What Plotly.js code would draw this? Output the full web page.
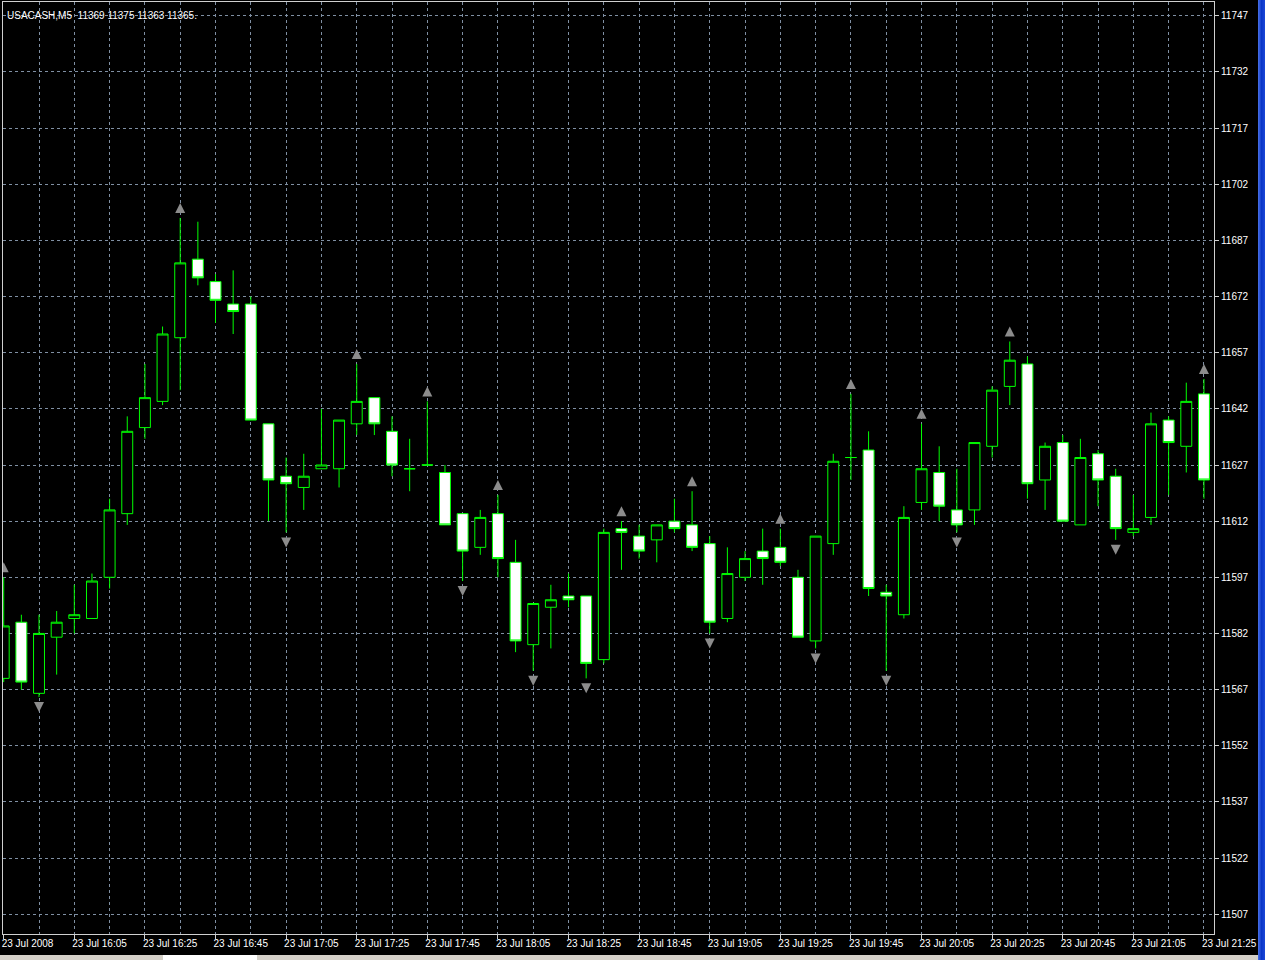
<!DOCTYPE html>
<html><head><meta charset="utf-8">
<script src="https://cdn.plot.ly/plotly-3.0.1.min.js"></script>
<style>
html,body{margin:0;padding:0;background:#ffffff;width:1280px;height:960px;overflow:hidden;}
#chart{position:absolute;left:0;top:0;width:1262px;height:955px;background:#000;}
#frameR{position:absolute;left:1258px;top:0;width:7px;height:960px;background:linear-gradient(to right,#4a72e8,#0a36c8,#1c48d8);}
#frameB{position:absolute;left:0;top:955px;width:1258px;height:5px;background:#d4d0c8;}
#tab{position:absolute;left:163px;top:955px;width:94px;height:5px;background:#ffffff;}
</style></head>
<body>
<div id="chart"></div>
<div id="frameR"></div><div id="frameB"></div><div id="tab"></div>
<script>
// ---- data (USACASH, M5, 23 Jul 2008) ----
var dateStr = '2008-07-23';
var times = ['15:45','15:50','15:55','16:00','16:05','16:10','16:15','16:20','16:25','16:30',
  '16:35','16:40','16:45','16:50','16:55','17:00','17:05','17:10','17:15','17:20',
  '17:25','17:30','17:35','17:40','17:45','17:50','17:55','18:00','18:05','18:10',
  '18:15','18:20','18:25','18:30','18:35','18:40','18:45','18:50','18:55','19:00',
  '19:05','19:10','19:15','19:20','19:25','19:30','19:35','19:40','19:45','19:50',
  '19:55','20:00','20:05','20:10','20:15','20:20','20:25','20:30','20:35','20:40',
  '20:45','20:50','20:55','21:00','21:05','21:10','21:15','21:20','21:25'];
var openP = [11570,11585,11566,11581,11586,11586,11597,11614,11637,11644,
  11661,11682,11676,11670,11670,11638,11624,11621,11626,11626,
  11638,11645,11636,11626,11627,11625,11614,11605,11614,11601,
  11579,11589,11592,11592,11575,11610,11608,11607,11612,11611,
  11606,11586,11597,11604,11605,11597,11580,11606,11629,11631,
  11593,11587,11617,11625,11615,11615,11632,11648,11654,11623,
  11633,11611,11630,11624,11609,11613,11639,11632,11646];
var highP = [11597,11587,11587,11588,11595,11598,11618,11640,11654,11664,
  11693,11692,11678,11679,11672,11638,11629,11630,11642,11639,
  11654,11645,11640,11634,11644,11627,11614,11615,11619,11607,
  11590,11595,11598,11592,11610,11612,11611,11611,11618,11620,
  11608,11605,11604,11610,11610,11599,11608,11630,11646,11636,
  11595,11616,11638,11632,11626,11633,11648,11660,11656,11633,
  11635,11634,11631,11626,11619,11641,11640,11649,11650];
var lowP = [11569,11567,11565,11571,11582,11586,11594,11611,11634,11643,
  11647,11675,11665,11662,11639,11612,11609,11615,11626,11621,
  11635,11635,11624,11620,11627,11611,11596,11603,11597,11577,
  11572,11578,11589,11570,11574,11599,11602,11601,11609,11604,
  11582,11585,11596,11595,11600,11581,11578,11603,11623,11592,
  11572,11586,11615,11612,11609,11611,11629,11643,11618,11615,
  11612,11611,11616,11607,11608,11611,11619,11625,11618];
var closeP = [11584,11569,11582,11585,11587,11596,11615,11636,11645,11662,
  11681,11677,11671,11668,11639,11623,11622,11624,11627,11639,
  11644,11638,11627,11626,11627,11611,11604,11613,11602,11580,
  11590,11591,11591,11574,11609,11609,11604,11611,11610,11605,
  11585,11598,11602,11602,11601,11581,11608,11628,11629,11594,
  11592,11613,11626,11616,11611,11633,11647,11655,11622,11632,
  11612,11629,11623,11610,11610,11638,11633,11644,11623];
// fractal bars (indices into the series above)
var fractalUp = [0,10,20,24,28,35,39,44,48,52,57,68];
var fractalDown = [2,16,26,30,33,40,46,50,54,63];
// time axis labels (every 4th bar)
var tickLabels = ['23 Jul 2008','23 Jul 16:05','23 Jul 16:25','23 Jul 16:45','23 Jul 17:05',
  '23 Jul 17:25','23 Jul 17:45','23 Jul 18:05','23 Jul 18:25','23 Jul 18:45','23 Jul 19:05',
  '23 Jul 19:25','23 Jul 19:45','23 Jul 20:05','23 Jul 20:25','23 Jul 20:45','23 Jul 21:05','23 Jul 21:25'];
var titleText = 'USACASH,M5 \u00a011369 11375 11363 11365.';

// ---- build ----
var x = times.map(function(t){ return dateStr + ' ' + t + ':00'; });
var tickVals = tickLabels.map(function(_, k){ return x[k*4]; });

var yRange = [11501.7, 11750.7];
var plotH = 932;
var pxPerPt = plotH / (yRange[1] - yRange[0]);
var arrowOff = 15 / pxPerPt;

function toDateStr(ms){ return new Date(ms).toISOString().replace('T',' ').replace('Z',''); }
var t0 = Date.UTC(2008, 6, 23, 15, 45);
var barMs = 5 * 60 * 1000;
var xRange = [toDateStr(t0 - 0.04 * barMs), toDateStr(t0 + 68.57 * barMs)];

var upX = fractalUp.map(function(i){ return x[i]; });
var upY = fractalUp.map(function(i){ return highP[i] + arrowOff; });
var dnX = fractalDown.map(function(i){ return x[i]; });
var dnY = fractalDown.map(function(i){ return lowP[i] - arrowOff; });

var font = 'Liberation Sans, Arial, sans-serif';
var gridC = '#7f8fa3';
var frameC = '#d0d0d0';

var traces = [
  {type:'candlestick', x:x, open:openP, high:highP, low:lowP, close:closeP,
   increasing:{line:{color:'#00ff00', width:1}, fillcolor:'#000000'},
   decreasing:{line:{color:'#00ff00', width:1}, fillcolor:'#ffffff'},
   whiskerwidth:0, hoverinfo:'none', showlegend:false},
  {type:'scatter', mode:'markers', x:upX, y:upY, hoverinfo:'none', showlegend:false,
   marker:{symbol:'arrow-up', size:10, color:'#8c8c8c', line:{width:0}}},
  {type:'scatter', mode:'markers', x:dnX, y:dnY, hoverinfo:'none', showlegend:false,
   marker:{symbol:'arrow-down', size:10, color:'#8c8c8c', line:{width:0}}}
];

var layout = {
  width:1262, height:955,
  paper_bgcolor:'#000000', plot_bgcolor:'#000000',
  margin:{l:3, r:48, t:2, b:21},
  showlegend:false,
  boxgap:0.38, boxgroupgap:0,
  font:{family:font, size:10, color:'#ffffff'},
  xaxis:{type:'date', range:xRange, rangeslider:{visible:false},
    tickmode:'array', tickvals:tickVals, ticktext:tickLabels,
    ticks:'outside', ticklen:4, tickcolor:frameC, ticklabelposition:'outside right',
    ticklabeloverflow:'allow', ticklabelshift:-3,
    tickfont:{family:font, size:10, color:'#ffffff'},
    showgrid:true, gridcolor:gridC, griddash:'3px,3px', gridwidth:1,
    minor:{tick0:x[0], dtick:2*barMs, showgrid:true, gridcolor:gridC, griddash:'3px,3px', gridwidth:1, ticks:''},
    showline:true, mirror:true, linecolor:frameC, linewidth:1, zeroline:false, fixedrange:true},
  yaxis:{side:'right', range:yRange, tickmode:'linear', tick0:11507, dtick:15,
    tickformat:'d', ticklabeloverflow:'allow',
    ticks:'outside', ticklen:4, tickcolor:frameC,
    tickfont:{family:font, size:10, color:'#ffffff'},
    showgrid:true, gridcolor:gridC, griddash:'3px,3px', gridwidth:1,
    showline:true, mirror:true, linecolor:frameC, linewidth:1, zeroline:false, fixedrange:true},
  annotations:[{xref:'paper', yref:'paper', x:0, y:1, xanchor:'left', yanchor:'top',
    xshift:2, yshift:-6, showarrow:false, text:titleText,
    font:{family:font, size:10, color:'#ffffff'}}]
};

Plotly.newPlot('chart', traces, layout, {displayModeBar:false, staticPlot:true});
</script></body></html>
